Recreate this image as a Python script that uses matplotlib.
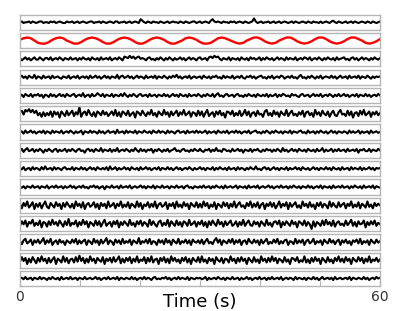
import numpy as np
import matplotlib
matplotlib.use("Agg")
import matplotlib.pyplot as plt

# Señales (unidades arbitrarias), una lista por canal, muestreadas de 0 a 60 s
canal_01 = [0, 1, -1, 0, 0, 1, -1, 1, 0, -1, 0, 1, 1, -1, 0, 0, -1, 1, 0, 1,
            -1, 0, 1, 0, -1, -1, 1, 0, 0, 1, -1, 0, 1, -1, 0, 1, 0, -1, 0, 1,
            1, -1, 0, 0, 1, -1, 1, 0, -1, 0, 1, 0, -1, 1, 1, -1, 0, 0, 1, -1,
            0, 1, -1, 0, 1, 0, -1, 4, 2, 0, -1, 1, 0, -1, 1, 0, 0, -1, 1, 0,
            -1, 0, 1, -1, 0, 1, 0, 0, -1, 1, 0, -1, 1, 0, -1, 0, 1, 1, -1, 0,
            1, -1, 0, 1, 0, -1, 2, 4, 1, 0, 1, 0, -1, 1, 0, 0, -1, 1, 0, 1,
            -1, 0, 1, 0, -1, 1, 0, -1, 0, 1, 5, 1, -1, 0, 1, -1, 0, 0, 1, -1,
            0, 1, -1, 0, 1, -1, 0, 1, 0, -1, 0, 1, -1, 1, 0, -1, 0, 1, 0, -1,
            1, 0, -1, 1, 0, 0, -1, 1, -1, 0, 1, 0, -1, 1, 2, 0, -1, 1, 0, -1,
            0, 1, -1, 0, 1, -1, 1, 0, -1, 0, 1, 0, -1, 1, 0, -1, 1, 0, -1, 0, 1]
canal_02 = [1, 3, 4, 3, 0, -3, -4, -4, -2, 1, 3, 4, 3, 0, -2, -4, -4, -2, 1, 3,
            4, 3, 1, -2, -4, -4, -2, 1, 3, 4, 3, 1, -2, -4, -4, -2, 1, 3, 4, 3,
            1, -2, -4, -4, -2, 0, 3, 4, 3, 1, -2, -4, -4, -3, 0, 3, 4, 3, 1, -1,
            -3, -4, -3, 0, 2, 4, 4, 2, -1, -3, -4, -3, 0, 2, 4, 4, 2, -1, -3, -4,
            -3, -1, 2, 4, 4, 2, -1, -3, -4, -3, -1, 2, 4, 4, 2, 0, -3, -4, -3, -1, 2]
canal_03 = [1, -2, 0, 2, -1, 1, -2, 0, 2, -1, -1, 2, 0, -2, 1, 1, -1, 2, -2, 0,
            1, -1, 2, 0, -2, 1, 0, -1, 2, -1, 0, 1, -2, 1, -1, 2, 0, -1, 1, -2,
            2, 0, -1, 1, -2, 2, -1, 0, 1, -1, 2, -2, 0, 1, -1, 2, 0, -2, 3, 2,
            1, 4, 1, 3, 0, 2, 3, 0, 1, 0, -2, 1, 2, -1, 0, -2, 1, -1, 2, 0,
            -2, 1, -1, 2, 0, -2, 1, -1, 0, 2, -1, 1, -2, 0, 2, -1, 1, 0, -2, 1,
            2, -1, 0, 1, -2, 2, 3, 1, 4, 2, 3, 0, -2, 1, 0, -1, 2, -2, 1, 0,
            -1, 1, -2, 2, 0, -1, 1, -2, 2, 0, 1, -1, 0, 2, -2, 1, -1, 2, 0, -1,
            1, -2, 0, 2, -1, 1, 0, -2, 2, -1, 1, 0, -1, 2, -2, 0, 1, -1, 2, 1,
            -1, 2, -2, 0, 1, -1, 2, 0, -2, 1, -1, 2, 0, -1, 1, -2, 2, -1, 0, 1,
            2, -1, 0, -2, 1, 2, -1, 1, -2, 0, 2, -1, 1, 0, -2, 1, -1, 2, 0, -1, 1]
canal_04 = [0, 2, -1, 1, -2, 2, 0, -1, 3, -2, 1, 0, -2, 2, -1, 0, 1, -2, 2, -1,
            0, 1, -1, -2, 1, 0, -1, 2, -2, 0, 1, -1, 2, -2, 0, 1, -1, 1, -2, 2,
            -1, 0, 2, -1, 1, -2, 0, 2, -1, 1, -2, 1, 0, -1, 3, -2, 1, 2, -1, 0,
            2, -1, 1, -2, 0, 2, -1, 1, 0, -2, 2, -1, 0, 1, -1, 2, -2, 1, 0, -1,
            2, 0, -2, 1, -1, 2, 0, 3, -1, 1, -2, 0, 1, -1, 2, -2, 0, 1, -1, 0,
            1, -2, 2, 0, -1, 1, -2, 1, 0, 2, -1, 0, -2, 2, -1, 1, 0, -1, 2, -2,
            0, 1, -1, 2, -1, -2, 1, 0, 2, -1, 1, -2, 0, 1, 2, -1, 0, -2, 1, -1,
            2, -2, 0, 1, -1, 2, 1, -2, 0, 1, -1, 2, -1, 0, -2, 1, 3, -1, 0, -2,
            1, -1, 2, 0, -2, 1, -1, 2, -2, 0, 1, 0, -1, 2, -1, 1, -2, 0, 2, -1,
            0, 1, -2, 2, -1, 0, 1, -1, 2, -2, 1, 0, -1, 2, 0, -2, 1, -1, 1, 0, 1]
canal_05 = [-1, 1, -2, 2, 0, -1, 2, -2, 1, 0, 2, -1, 1, -3, 1, 0, -2, 2, -1, 1,
            -2, 0, 2, -1, 1, -2, 2, 0, -1, 1, 2, -2, 0, 1, -1, 3, -2, 0, 1, -2,
            2, -1, 0, 3, 1, -1, 2, -2, 1, 0, -1, 2, -2, 1, 0, -1, 2, -1, 3, 0,
            -2, 1, -1, 2, 0, -2, 1, 2, -1, 0, 1, -2, 2, -1, 0, 1, -2, 1, 0, -1,
            2, -1, 1, -2, 0, 2, -1, 1, -2, 2, 0, -1, 1, -2, 2, -1, 0, 1, -1, 2,
            0, -2, 1, -1, 2, 0, -1, 2, -2, 1, 3, -1, 0, -2, 1, 2, -1, 0, 1, -2,
            1, 2, -1, 0, -2, 1, -1, 2, 0, -1, 1, -2, 2, 0, -1, 1, -1, 2, -2, 1,
            -1, 0, 2, -2, 1, -1, 2, 1, -1, 0, -2, 2, 0, 1, -1, -2, 1, 2, -1, 0,
            1, -2, 0, 2, -1, 1, -1, 2, -2, 0, 1, -1, 2, 0, -2, 1, -1, 2, -1, 0,
            2, -1, 1, -2, 0, 1, -1, 2, -2, 1, 0, -1, 2, -1, 1, -2, 0, 1, -1, 2, 0]
canal_06 = [2, 4, -1, 5, 3, 6, 2, 5, 1, 4, -2, 1, -4, 2, -3, 1, -2, 3, -4, 3,
            -1, 2, -5, 3, 0, -3, 4, -2, 1, 4, -3, 2, -1, 9, -4, 1, 3, -2, 5, 0,
            -3, 2, -4, 3, 1, -2, 4, -1, 2, -3, 0, 3, -2, 5, -3, 2, -4, 3, 1, -2,
            4, -3, 0, 2, -5, 3, 1, -2, 4, 0, -3, 2, -1, 5, -2, 1, -4, 3, 0, -2,
            5, -1, 2, -4, 3, -2, 1, 4, -3, 2, -1, 5, -2, 0, 3, -4, 2, 1, -3, 4,
            -2, 3, -4, 1, 5, -3, 0, 2, -4, 3, -1, 4, -2, 1, -5, 3, 2, -1, 4, -3,
            1, -2, 4, -3, 0, 5, -2, 3, -4, 1, 2, -3, 4, -1, 0, -4, 3, 5, -2, 1,
            -3, 4, -1, 2, -4, 3, 0, -2, 5, -3, 1, 4, -2, 0, -3, 2, -1, 4, -4, 2,
            3, -2, 1, -4, 5, -1, 2, -3, 4, 0, -2, 3, -4, 1, 4, -2, -3, 2, 5, -1,
            0, -3, 4, -2, 3, -5, 1, 2, -3, 4, -1, 5, -2, 0, 3, -4, 2, -1, 3, -2, 1]
canal_07 = [0, 1, -2, 2, -1, 0, 2, -1, 1, -2, 0, 1, -1, 2, -2, 1, 0, -2, 2, -1,
            1, 0, -1, 2, -2, 0, 1, -1, 2, 0, -2, 1, -1, 0, 2, -3, 1, 0, -1, 2,
            -1, 1, 0, -2, 2, -1, 1, -2, 0, 2, -1, 0, 1, -2, 3, -1, 0, 1, -2, 2,
            -1, 1, 0, -1, 2, -2, 1, 0, -1, 2, 0, -1, 1, -2, 2, 0, -1, 2, -1, 1,
            0, -2, 2, -1, 1, 0, -2, 1, 2, -1, 0, 1, -2, 2, -1, 0, 1, -1, 2, -1,
            1, -1, 0, 2, -2, 1, -1, 0, 1, -2, 2, 0, -1, 1, -1, 2, -2, 0, 1, -1,
            2, -1, 1, -2, 0, 1, -1, 2, -2, 0, 1, 2, -1, 0, -2, 1, -1, 2, 0, -2,
            1, -1, 2, 0, -1, 1, -2, 1, 0, -1, 2, -2, 1, 0, -1, 1, 2, -1, 0, -2,
            2, -1, 0, 1, -2, 1, -1, 2, 0, -1, 1, -2, 0, 2, -1, 1, -2, 1, 0, -1,
            1, 0, -2, 2, -1, 1, -1, 0, 2, -2, 1, -1, 0, 1, -2, 2, -1, 0, 1, -1, 0]
canal_08 = [-1, 2, -2, 1, 3, -1, 0, 2, -2, 1, -1, 2, 0, -3, 1, -1, 2, 0, -2, 1,
            2, -2, 1, -1, 0, 2, -2, 1, -1, 2, 0, -2, 1, 2, -1, 0, -3, 1, 2, -1,
            1, -2, 2, 0, -1, 3, -2, 1, 0, -1, 2, -2, 1, -1, 3, -2, 0, 1, -1, 2,
            0, -2, 1, -1, 3, 0, -2, 2, -1, 1, -2, 1, 0, 2, -3, 1, -1, 2, 0, -2,
            1, -1, 2, -2, 0, 1, 3, -1, 0, -2, 1, 2, -1, 0, -2, 1, -1, 2, 0, -1,
            2, -1, -2, 1, 0, 2, -2, 1, -1, 3, -1, 0, -2, 2, 1, -1, 0, -2, 2, -1,
            0, 2, -1, 1, -3, 1, 0, -1, 2, -2, 1, 0, 2, -1, -2, 1, -1, 2, 0, 1,
            -2, 1, -1, 2, 0, -2, 3, -1, 1, -2, 0, 2, -1, 1, -2, 2, 0, -1, 1, -2,
            2, 0, -1, 1, -2, 2, -1, 0, 3, -2, 1, -1, 0, 2, -2, 1, -1, 2, -1, 0,
            1, -2, 2, -1, 0, 1, -1, 2, -3, 1, 0, 2, -1, -1, 2, -2, 1, 0, -1, 2, 0]
canal_09 = [1, -1, 2, -2, 0, 1, -2, 2, -1, 1, 0, -2, 2, -1, 3, -1, 0, 1, -2, 2,
            -1, 1, 0, -2, 1, 2, -1, 0, -1, 2, -2, 1, 0, -1, 2, -1, 1, -2, 0, 2,
            -1, 1, -2, 2, 0, -1, 1, -1, 2, -2, 3, -1, 0, 2, -2, 1, -1, 0, 2, -1,
            1, -2, 2, 0, -1, 1, -2, 2, -1, 0, 2, -1, 1, -2, 0, 1, -1, 2, -2, 1,
            0, -1, 2, -1, 1, -2, 0, 2, -1, 1, -2, 0, 1, -1, 2, 0, -2, 1, -1, 0,
            2, -1, 1, -2, 1, 0, -1, 2, -2, 1, -1, 2, 0, -1, 1, -2, 2, -1, 0, 1,
            -2, 2, -1, 1, 0, -2, 1, -1, 2, 0, -1, 3, -1, 0, -2, 1, 2, -1, 1, -2,
            0, 2, -1, 1, -2, 1, 0, -1, 2, -2, 1, -1, 0, 2, -1, 1, -2, 2, 0, -1,
            1, -2, 0, 2, -1, 1, -2, 1, 0, -1, 2, -1, 1, -2, 2, 0, -1, 1, -2, 2,
            -1, 0, 1, -2, 2, -1, 1, 0, -1, 2, -2, 1, -1, 0, 2, -1, 1, -2, 1, 0, 1]
canal_10 = [0, -1, 1, -2, 1, 0, -1, 2, -1, 0, 1, -2, 1, 0, -1, 2, -2, 0, 1, -1,
            2, -1, 0, 1, -2, 1, -1, 0, 2, -1, 1, -2, 0, 1, -1, 2, -1, 0, -2, 1,
            0, 2, -1, 1, -2, 0, 1, -3, 1, 0, -1, 2, -1, 0, 1, -2, 2, -1, 0, 1,
            -1, 2, -2, 0, 1, -1, 0, 2, -1, 1, -2, 1, 0, -1, 2, -2, 1, 0, -1, 2,
            -1, 0, 1, -2, 1, 0, -1, 2, -1, 0, 1, -2, 1, 2, -1, 0, -2, 1, 0, -1,
            1, -1, 2, -1, 0, 1, -2, 1, -1, 2, 0, -1, 1, -2, 2, -1, 0, 1, -1, 0,
            2, -2, 1, 0, -1, 1, -2, 2, -1, 0, 1, -1, 2, -2, 0, 1, -1, 0, 2, -1,
            1, -2, 0, 1, -1, 2, -1, 0, 1, -2, 1, -1, 2, 0, -1, 1, -2, 1, 0, -1,
            2, -1, 1, -2, 0, 1, -1, 2, -2, 1, 0, -1, 1, -2, 2, -1, 0, 1, -1, 2,
            -1, 0, 1, -2, 1, -1, 2, 0, -1, 1, -2, 2, -1, 0, 1, -1, 2, -2, 1, 0, -1]
canal_11 = [2, -4, 3, -1, 5, -3, 0, 4, -5, 2, -2, 3, -4, 1, 5, -2, -4, 3, 0, -3,
            4, -1, 2, -5, 3, -2, 4, 0, -3, 2, -4, 5, -1, 2, -3, 4, -5, 1, 3, -2,
            0, 4, -3, 2, -5, 3, -1, 2, -4, 5, -2, 0, 3, -4, 2, -1, 5, -3, 1, -2,
            4, -4, 2, 0, -3, 5, -2, 3, -5, 1, -1, 4, -3, 2, -2, 5, -4, 1, 3, -2,
            0, 4, -5, 2, -1, 3, -4, 5, -2, 1, -3, 4, -1, 2, -5, 3, 0, -2, 4, -3,
            2, -3, 5, -1, 3, -4, 1, -2, 4, -5, 2, 0, -3, 4, -1, 3, -4, 2, -2, 5,
            -3, 1, 4, -2, 0, -4, 3, -1, 5, -3, 2, -2, 4, -4, 1, 3, -5, 2, -1, 4,
            -2, 3, -4, 0, 5, -3, 2, -1, 4, -5, 3, -2, 1, 4, -3, 0, -4, 5, -1, 2,
            -3, 4, -2, 1, -5, 3, -1, 4, -3, 2, 0, -4, 5, -2, 3, -1, -3, 4, -2, 1,
            3, -4, 2, -1, 5, -3, 1, -2, 4, -4, 2, 0, -3, 5, -2, 1, -4, 3, -1, 2, 0]
canal_12 = [-3, 3, -1, 4, -4, 2, 0, 5, -3, 1, -2, 4, -5, 2, 1, -4, 3, -2, 5, -1,
            2, -3, 4, 0, -4, 3, -2, 6, -3, 1, -1, 4, -4, 2, -2, 5, -1, 3, -5, 2,
            0, -3, 4, -2, 3, -4, 1, 5, -3, 0, 2, -4, 3, -1, 4, -5, 2, -2, 3, 0,
            -3, 5, -2, 1, -4, 3, -1, 4, -3, 2, 0, -4, 5, -2, 3, -1, -4, 2, 4, -3,
            1, -2, 5, -4, 3, 0, -3, 4, -2, 2, -4, 3, 1, -3, 5, -2, 0, 3, -4, 2,
            -1, 4, -3, 2, -5, 3, -2, 4, 0, -3, 5, -1, 2, -4, 3, -2, 1, 4, -3, -1,
            3, -4, 2, -2, 5, -3, 1, 4, -2, -3, 3, -1, 2, -4, 3, 0, -3, 5, -2, 1,
            -4, 2, 3, -1, 4, -5, 2, -2, 3, 0, -3, 4, -1, 2, -5, 3, 1, -2, 4, -3,
            2, -1, -7, 3, -4, 2, 0, -3, 4, -2, 5, -1, 2, -3, 4, -4, 1, 3, -2, 0,
            -3, 4, -2, 1, 5, -3, 2, -4, 3, -1, 0, 4, -5, 2, -2, 3, -1, 4, -3, 1, -1]
canal_13 = [1, -3, 2, 4, -2, 0, 3, -4, 2, -1, 3, -2, 1, 5, -3, 2, -1, 4, -4, 0,
            2, -3, 3, -1, 1, -4, 2, 0, -2, 3, -1, 4, -3, 2, -2, 1, 3, -4, 2, 0,
            -3, 4, -1, 2, -4, 3, -2, 1, 5, -3, 2, 0, -4, 3, -1, 2, -3, 4, -2, 1,
            -1, 3, -4, 2, 0, -2, 5, -3, 1, -1, 3, -2, 4, -3, 1, 0, -4, 3, -1, 2,
            -3, 4, -1, 2, -4, 3, 0, -2, 4, -3, 1, -1, 3, -2, 2, -4, 3, 0, -1, 2,
            -2, 3, -3, 1, 4, -2, 0, -3, 2, 5, -1, 3, -4, 2, 0, -2, 3, -1, 4, -3,
            2, -1, 3, -4, 1, 2, -3, 4, 0, -2, 3, -1, 2, -4, 3, -2, 1, 4, -3, 0,
            -2, 3, -1, 4, -3, 1, -2, 2, 3, -4, 1, 0, -3, 4, -2, 2, -1, 3, -4, 1,
            3, -2, 0, 4, -3, 1, -1, 2, -4, 3, 0, -2, 4, -1, 2, -3, 1, 3, -4, 2,
            -1, 3, -2, 1, -4, 2, 0, 3, -2, 4, -3, 1, -1, 2, -4, 3, 0, -2, 3, -1, 1]
canal_14 = [-2, 4, -1, 3, -5, 2, -3, 4, 0, -4, 3, -2, 5, -1, 2, -4, 3, -3, 1, 4,
            -5, 2, 0, -3, 5, -2, 3, -4, 1, 2, -3, 4, -2, 6, -1, 3, -4, 2, -3, 5,
            -1, 2, -4, 3, 0, -2, 4, -5, 2, -1, 3, -3, 4, -2, 1, 5, -4, 2, -3, 3,
            -1, 4, -4, 2, -2, 5, -3, 1, -1, 4, -4, 3, -2, 5, -3, 1, 2, -5, 3, -1,
            4, -3, 2, -4, 5, -1, 3, -2, 1, -4, 3, -1, 4, -3, 2, -5, 3, 0, -2, 4,
            -3, 5, -2, 1, -4, 3, -1, 2, -5, 4, 0, -2, 3, -4, 2, 1, -3, 5, -1, 2,
            -4, 3, -2, 4, -1, 2, -5, 3, 0, -3, 4, -2, 1, -4, 5, -1, 2, -3, 3, -2,
            5, -1, 3, -4, 2, 0, -3, 4, -2, 1, -5, 3, 2, -1, 4, -3, 0, -2, 5, -3,
            1, -4, 3, -2, 4, -1, 2, -5, 3, 0, -3, 4, -2, 1, -4, 3, -1, 5, -2, 2,
            -3, 4, -1, 2, -5, 3, 0, -2, 4, -1, 3, -4, 2, -2, 5, -3, 1, -1, 3, -2, 1]
canal_15 = [0, 1, -1, 2, -1, 0, 1, -2, 1, 0, -1, 2, -1, 1, 0, -2, 1, -1, 2, 0,
            -1, 1, -2, 2, -1, 0, 1, -1, 2, -1, 0, 1, -2, 1, 0, -1, 2, -1, 0, 1,
            -1, 0, 2, -1, 1, -2, 0, 1, -1, 2, -1, 0, 1, -1, 2, -2, 1, 0, -1, 1,
            0, -1, 2, -1, 1, -2, 0, 1, -1, 2, -1, 1, 0, -2, 1, 2, -1, 0, -1, 1,
            0, 2, -1, 1, -2, 0, 1, -1, 2, -1, 1, 0, -1, 2, -2, 1, 0, -1, 1, 0,
            1, -1, 0, 2, -2, 1, -1, 0, 1, -1, 2, 0, -1, 1, -2, 1, 0, -1, 2, -1,
            0, 1, -2, 1, -1, 0, 2, -1, 1, -2, 0, 1, -1, 2, -1, 0, 1, -2, 1, -1,
            2, -1, 0, 1, -1, 2, -2, 0, 1, -1, 1, 0, -2, 2, -1, 1, 0, -1, 1, -2,
            1, 0, -1, 2, -1, 1, -2, 0, 2, -1, 0, 1, -1, 1, -2, 2, -1, 0, 1, -1,
            0, 1, -1, 2, -2, 1, 0, -1, 1, 0, -1, 2, -1, 1, -2, 0, 1, -1, 2, 0, 1]

canales = [canal_01, canal_02, canal_03, canal_04, canal_05, canal_06, canal_07,
           canal_08, canal_09, canal_10, canal_11, canal_12, canal_13, canal_14,
           canal_15]
colores = ['black', 'red'] + ['black'] * 13

T_MAX = 60

fig, ejes = plt.subplots(len(canales), 1, figsize=(4, 3.11), dpi=100, sharex=True)
fig.subplots_adjust(left=0.05, right=0.95, top=0.953, bottom=0.08, hspace=0.2)

for ax, senal, color in zip(ejes, canales, colores):
    t = np.linspace(0, T_MAX, len(senal))
    ax.plot(t, senal, color=color, lw=1.7 if color == 'red' else 1.5)
    ax.set_xlim(0, T_MAX)
    ax.set_ylim(-10, 10)
    ax.set_yticks([])
    for s in ax.spines.values():
        s.set_color('#b5b5b5')
        s.set_linewidth(1.0)
    ax.tick_params(axis='x', length=0)

# Solo el último eje lleva marcas y etiquetas
ax = ejes[-1]
ax.set_xticks(np.arange(0, T_MAX + 1, 10))
ax.set_xticklabels(['0', '', '', '', '', '', '60'])
ax.tick_params(axis='x', direction='in', length=4, color='#b5b5b5',
               labelsize=10, labelcolor='#333333', pad=3)
ax.set_xlabel('Time (s)', fontsize=13, va='center')
ax.xaxis.set_label_coords(0.5, -1.05)

plt.savefig('out.png')
